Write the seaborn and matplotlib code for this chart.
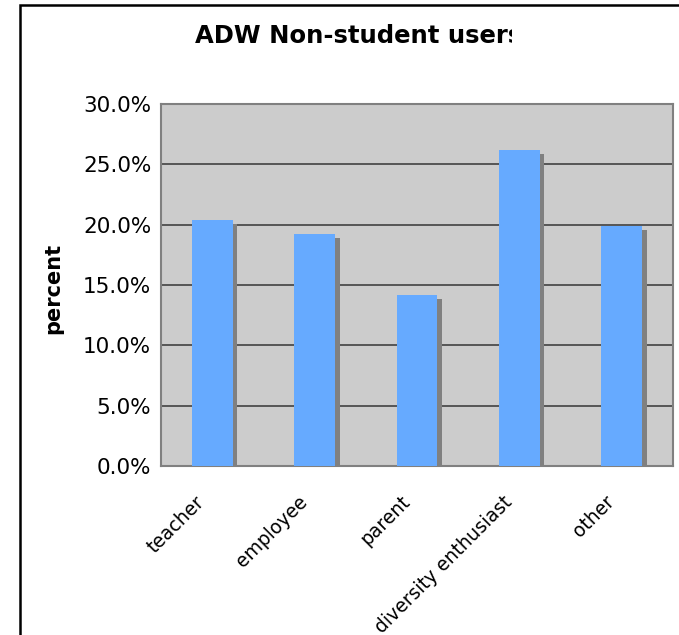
import matplotlib
matplotlib.use("Agg")
import matplotlib.pyplot as plt
import matplotlib.transforms as mtransforms
from matplotlib.patches import Rectangle
from matplotlib.ticker import PercentFormatter, FixedLocator
import pandas as pd
import seaborn as sns

# Datos
categorias = ["teacher", "employee", "parent", "diversity enthusiast", "other"]
porcentajes = [20.4, 19.25, 14.2, 26.2, 19.9]
titulo = "ADW Non-student users"

df = pd.DataFrame({"Tipo": categorias, "Porcentaje": porcentajes})

sns.set_style("white")
plt.rcParams["font.family"] = ["DejaVu Sans"]
plt.rcParams["text.color"] = "black"
plt.rcParams["xtick.color"] = "black"
plt.rcParams["ytick.color"] = "black"
plt.rcParams["axes.labelcolor"] = "black"

fig = plt.figure(figsize=(6.79, 6.35), dpi=100)
ax = fig.add_axes([161 / 679, 1 - 466 / 635, 512 / 679, 362 / 635])
ax.set_facecolor("#cccccc")

# Sombra de las barras (desplazada a la derecha y hacia abajo)
sns.barplot(data=df, x="Tipo", y="Porcentaje", color="#808080", width=0.4,
            saturation=1, ax=ax, zorder=2)
sombra = list(ax.patches)
desplazamiento = mtransforms.ScaledTranslation(4.5 / 100, -4 / 100, fig.dpi_scale_trans)
for p in sombra:
    p.set_transform(ax.transData + desplazamiento)
    p.set_edgecolor("none")

# Barras principales
sns.barplot(data=df, x="Tipo", y="Porcentaje", color="#66aaff", width=0.4,
            saturation=1, ax=ax, zorder=3)
for p in ax.patches[len(sombra):]:
    p.set_edgecolor("none")

ax.set_xlim(-0.5, len(categorias) - 0.5)
ax.set_ylim(0, 30)
ax.set_yticks([0, 5, 10, 15, 20, 25, 30])
ax.yaxis.set_major_formatter(PercentFormatter(decimals=1))
ax.grid(axis="y", color="#555555", linewidth=1.4, zorder=1)
ax.set_axisbelow(True)

# Ticks del eje x entre categorías
ax.set_xticks(range(len(categorias)))
ax.set_xticklabels(categorias, rotation=45, ha="right", rotation_mode="anchor")
ax.tick_params(axis="x", length=0, labelsize=13.5, pad=16)
ax.xaxis.set_minor_locator(FixedLocator([i - 0.5 for i in range(len(categorias) + 1)]))
ax.tick_params(axis="x", which="minor", length=5, width=1, color="black", direction="out")
ax.tick_params(axis="y", length=5, width=1, color="black", direction="out",
               labelsize=15.5, pad=2)

# Las etiquetas del eje x quedan un poco a la izquierda del centro
mover = mtransforms.ScaledTranslation(-17 / 100, -4 / 100, fig.dpi_scale_trans)
for etiqueta in ax.get_xticklabels():
    etiqueta.set_transform(etiqueta.get_transform() + mover)

for lado in ["left", "right", "top", "bottom"]:
    ax.spines[lado].set_visible(True)
    ax.spines[lado].set_color("#808080")
    ax.spines[lado].set_linewidth(1.5)

ax.set_xlabel("")
ax.set_ylabel("percent", fontsize=15, fontweight="bold")
ax.yaxis.set_label_coords(-0.19, 0.49)

# Título recortado como en el original
t = fig.text(195 / 679, 1 - 36 / 635, titulo, fontsize=17.5, fontweight="bold",
             ha="left", va="center")
t.set_clip_box(mtransforms.Bbox.from_extents(0, 0, 512, 635))
t.set_clip_on(True)

# Marco del gráfico
marco = Rectangle((20 / 679, -0.1), 1.2, 1 - 5 / 635 + 0.1, transform=fig.transFigure,
                  fill=False, edgecolor="black", linewidth=1.8)
fig.add_artist(marco)

fig.savefig("out.png", dpi=100, facecolor="white")
